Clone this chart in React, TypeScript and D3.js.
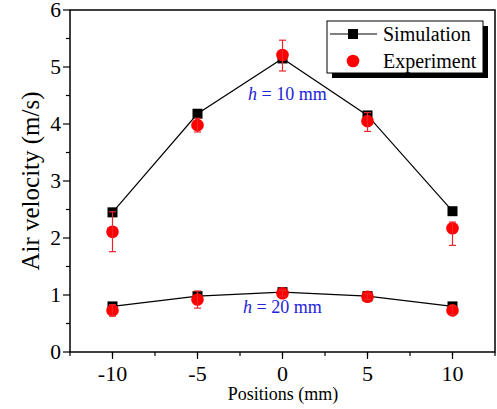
import React from 'react';
import * as d3 from 'd3';

// positions (mm)
const positions = [-10, -5, 0, 5, 10];

// h = 10 mm
const sim10 = [2.45, 4.18, 5.15, 4.15, 2.47];
const exp10 = [2.11, 3.98, 5.21, 4.05, 2.17];
const exp10ErrUp = [0.35, 0.12, 0.26, 0.15, 0.11];
const exp10ErrDown = [0.35, 0.12, 0.28, 0.18, 0.3];

// h = 20 mm
const sim20 = [0.8, 0.98, 1.05, 0.98, 0.8];
const exp20 = [0.73, 0.92, 1.03, 0.97, 0.73];
const exp20Err = [0.1, 0.15, 0.05, 0.05, 0.08];

const xTicks = [-10, -5, 0, 5, 10];
const yTicks = [0, 1, 2, 3, 4, 5, 6];

const App = () => {
  const width = 497;
  const height = 409;
  const margin = { left: 70, top: 10, right: 2, bottom: 57 };
  const font = '"Liberation Serif", "Times New Roman", serif';

  const x = d3.scaleLinear().domain([-12.5, 12.5]).range([margin.left, width - margin.right]);
  const y = d3.scaleLinear().domain([0, 6]).range([height - margin.bottom, margin.top]);

  const line = d3
    .line<number>()
    .x((d, i) => x(positions[i]))
    .y(d => y(d));

  const xMinor = d3.range(-12.5, 12.6, 2.5);
  const yMinor = d3.range(0.5, 6, 1);

  const series = [
    { sim: sim10, exp: exp10, up: exp10ErrUp, down: exp10ErrDown },
    { sim: sim20, exp: exp20, up: exp20Err, down: exp20Err },
  ];

  const x0 = x.range()[0];
  const x1 = x.range()[1];
  const y0 = y.range()[0];
  const y1 = y.range()[1];

  return (
    <svg width={width} height={height} style={{ position: 'absolute', left: 0, top: 0 }}>
      <rect width={width} height={height} fill="#fff" />

      {/* frame */}
      <rect x={x0} y={y1} width={x1 - x0} height={y0 - y1} fill="none" stroke="#000" strokeWidth={1.5} />

      {/* x ticks */}
      {xMinor.map(t => (
        <line key={'xm' + t} x1={x(t)} x2={x(t)} y1={y0} y2={y0 + 4} stroke="#000" strokeWidth={1.2} />
      ))}
      {xTicks.map(t => (
        <g key={'x' + t}>
          <line x1={x(t)} x2={x(t)} y1={y0} y2={y0 + 7} stroke="#000" strokeWidth={1.2} />
          <text x={x(t)} y={y0 + 29} textAnchor="middle" fontFamily={font} fontSize={22}>
            {t}
          </text>
        </g>
      ))}

      {/* y ticks */}
      {yMinor.map(t => (
        <line key={'ym' + t} x1={x0} x2={x0 - 4} y1={y(t)} y2={y(t)} stroke="#000" strokeWidth={1.2} />
      ))}
      {yTicks.map(t => (
        <g key={'y' + t}>
          <line x1={x0} x2={x0 - 7} y1={y(t)} y2={y(t)} stroke="#000" strokeWidth={1.2} />
          <text x={x0 - 9} y={y(t) + 6.5} textAnchor="end" fontFamily={font} fontSize={21.5}>
            {t}
          </text>
        </g>
      ))}

      {/* axis titles */}
      <text x={283} y={400} textAnchor="middle" fontFamily={font} fontSize={18}>
        Positions (mm)
      </text>
      <text
        transform={`translate(39, ${(y0 + y1) / 2}) rotate(-90)`}
        textAnchor="middle"
        fontFamily={font}
        fontSize={25}
      >
        Air velocity (m/s)
      </text>

      {/* data */}
      {series.map((s, k) => (
        <g key={'s' + k}>
          <path d={line(s.sim) || ''} fill="none" stroke="#000" strokeWidth={1.2} />
          {s.sim.map((v, i) => (
            <rect key={'sq' + i} x={x(positions[i]) - 5} y={y(v) - 5} width={10} height={10} fill="#000" />
          ))}
          {s.exp.map((v, i) => (
            <circle key={'c' + i} cx={x(positions[i])} cy={y(v)} r={6.3} fill="#ff0000" />
          ))}
          {s.exp.map((v, i) => {
            const cx = x(positions[i]);
            const top = y(v + s.up[i]);
            const bot = y(v - s.down[i]);
            return (
              <g key={'e' + i} stroke="#e8262c" strokeWidth={1.2}>
                <line x1={cx} x2={cx} y1={top} y2={bot} />
                <line x1={cx - 3.5} x2={cx + 3.5} y1={top} y2={top} />
                <line x1={cx - 3.5} x2={cx + 3.5} y1={bot} y2={bot} />
              </g>
            );
          })}
        </g>
      ))}

      {/* annotations */}
      <text x={248} y={100} fontFamily={font} fontSize={18} fill="#2323d8">
        <tspan fontStyle="italic">h</tspan> = 10 mm
      </text>
      <text x={243} y={313} fontFamily={font} fontSize={18} fill="#2323d8">
        <tspan fontStyle="italic">h</tspan> = 20 mm
      </text>

      {/* legend */}
      <rect x={332} y={26} width={156} height={52} fill="#000" />
      <rect x={327} y={21} width={156} height={52} fill="#fff" stroke="#000" strokeWidth={1} />
      <line x1={330} x2={377} y1={34} y2={34} stroke="#000" strokeWidth={1.2} />
      <rect x={348} y={29} width={10} height={10} fill="#000" />
      <text x={383} y={41} fontFamily={font} fontSize={20}>
        Simulation
      </text>
      <circle cx={353} cy={61} r={6.3} fill="#ff0000" />
      <text x={383} y={68} fontFamily={font} fontSize={20}>
        Experiment
      </text>
    </svg>
  );
};

export default App;
